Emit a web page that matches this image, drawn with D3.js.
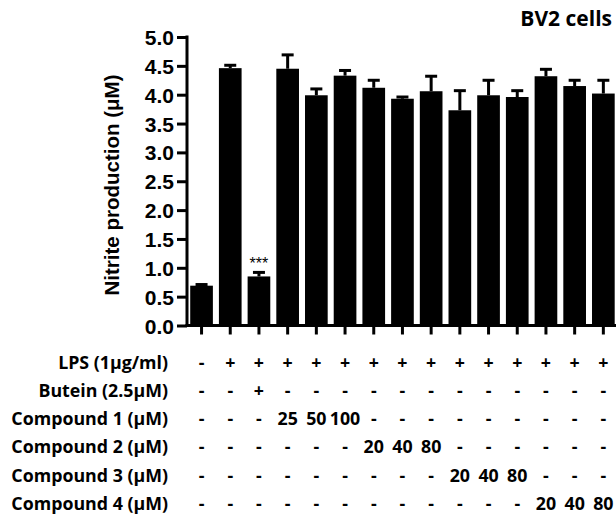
<!DOCTYPE html>
<html>
<head>
<meta charset="utf-8">
<script src="https://cdn.jsdelivr.net/npm/d3@7"></script>
<style>
  body { margin: 0; background: #fff; }
  .tick-label { font-family: "Liberation Sans", Arial, sans-serif; font-weight: bold; font-size: 21px; }
  .row-text { font-family: "Open Sans", sans-serif; font-weight: bold; font-size: 17.8px; }
</style>
</head>
<body>
<div id="chart"></div>
<script>
// DATA
const groups = d3.range(1, 16).map(String);
const means  = [0.69, 4.46, 0.85, 4.45, 3.99, 4.33, 4.12, 3.93, 4.06, 3.73, 3.99, 3.96, 4.32, 4.15, 4.02];
const errs   = [0.02, 0.05, 0.07, 0.24, 0.11, 0.09, 0.13, 0.03, 0.26, 0.34, 0.26, 0.11, 0.12, 0.10, 0.23];
const yTicks = [0, 0.5, 1, 1.5, 2, 2.5, 3, 3.5, 4, 4.5, 5];

const rowLabels = ["LPS (1μg/ml)", "Butein (2.5μM)", "Compound 1 (μM)", "Compound 2 (μM)", "Compound 3 (μM)", "Compound 4 (μM)"];
const rowLPS    = ["-", "+", "+", "+", "+", "+", "+", "+", "+", "+", "+", "+", "+", "+", "+"];
const rowButein = ["-", "-", "+", "-", "-", "-", "-", "-", "-", "-", "-", "-", "-", "-", "-"];
const rowComp1  = ["-", "-", "-", "25", "50", "100", "-", "-", "-", "-", "-", "-", "-", "-", "-"];
const rowComp2  = ["-", "-", "-", "-", "-", "-", "20", "40", "80", "-", "-", "-", "-", "-", "-"];
const rowComp3  = ["-", "-", "-", "-", "-", "-", "-", "-", "-", "20", "40", "80", "-", "-", "-"];
const rowComp4  = ["-", "-", "-", "-", "-", "-", "-", "-", "-", "-", "-", "-", "20", "40", "80"];
const rows = [rowLPS, rowButein, rowComp1, rowComp2, rowComp3, rowComp4];

const W = 616, H = 516;
const svg = d3.select("#chart").append("svg").attr("width", W).attr("height", H);

const x = d3.scaleBand().domain(groups).range([187.2, 617.7]).paddingInner(0.21).paddingOuter(0.105);
const y = d3.scaleLinear().domain([0, 5]).range([325.5, 37]);

// bars
svg.selectAll("rect.bar")
  .data(means)
  .enter()
  .append("rect")
  .attr("class", "bar")
  .attr("x", (d, i) => x(groups[i]))
  .attr("width", x.bandwidth())
  .attr("y", (d) => y(d))
  .attr("height", (d) => y(0) - y(d))
  .attr("fill", "#000");

// error bars (upper only)
const eb = svg.selectAll("g.err")
  .data(means)
  .enter()
  .append("g")
  .attr("class", "err")
  .attr("transform", (d, i) => `translate(${x(groups[i]) + x.bandwidth() / 2},0)`);
eb.append("line")
  .attr("y1", (d) => y(d))
  .attr("y2", (d, i) => y(d + errs[i]))
  .attr("stroke", "#000").attr("stroke-width", 3);
eb.append("line")
  .attr("x1", -6).attr("x2", 6)
  .attr("y1", (d, i) => y(d + errs[i]))
  .attr("y2", (d, i) => y(d + errs[i]))
  .attr("stroke", "#000").attr("stroke-width", 3);

// y axis
const yAxis = svg.append("g")
  .attr("transform", "translate(187,0)")
  .call(d3.axisLeft(y).tickValues(yTicks).tickFormat(d3.format(".1f")).tickSize(10).tickPadding(3));
yAxis.select(".domain").attr("stroke-width", 3).attr("d", `M0,${y(5) - 1.5}V${y(0) + 1.5}`);
yAxis.selectAll(".tick line").attr("stroke-width", 3);
yAxis.selectAll(".tick text").attr("class", "tick-label").attr("fill", "#000").attr("dy", "0.36em");

// x axis
const xAxis = svg.append("g")
  .attr("transform", `translate(0,${y(0)})`)
  .call(d3.axisBottom(x).tickSize(9).tickFormat(""));
xAxis.select(".domain").attr("stroke-width", 3).attr("d", `M185.5,0H616`);
xAxis.selectAll(".tick line").attr("stroke-width", 3);

// y label
svg.append("text")
  .attr("transform", "translate(119,185) rotate(-90)")
  .attr("text-anchor", "middle")
  .attr("font-family", "Liberation Sans, Arial, sans-serif")
  .attr("font-weight", "bold")
  .attr("font-size", 20.5)
  .text("Nitrite production (μM)");

// significance
svg.append("text")
  .attr("x", x(groups[2]) + x.bandwidth() / 2)
  .attr("y", y(means[2] + errs[2]) - 3)
  .attr("text-anchor", "middle")
  .attr("font-family", "Liberation Sans, Arial, sans-serif")
  .attr("font-size", 16)
  .text("***");

// title
svg.append("text")
  .attr("class", "row-text")
  .attr("x", 612)
  .attr("y", 26)
  .attr("text-anchor", "end")
  .style("font-size", "21px")
  .text("BV2 cells");

// treatment table
const rowY = (i) => 362.5 + i * 28.2;
svg.selectAll("text.rowlab")
  .data(rowLabels)
  .enter()
  .append("text")
  .attr("class", "row-text rowlab")
  .attr("x", 168)
  .attr("y", (d, i) => rowY(i))
  .attr("dy", "0.35em")
  .attr("text-anchor", "end")
  .text((d) => d);

rows.forEach((row, r) => {
  svg.selectAll(null)
    .data(row)
    .enter()
    .append("text")
    .attr("class", "row-text")
    .attr("x", (d, i) => x(groups[i]) + x.bandwidth() / 2)
    .attr("y", rowY(r))
    .attr("dy", "0.35em")
    .attr("text-anchor", "middle")
    .text((d) => d);
});
</script>
</body>
</html>
